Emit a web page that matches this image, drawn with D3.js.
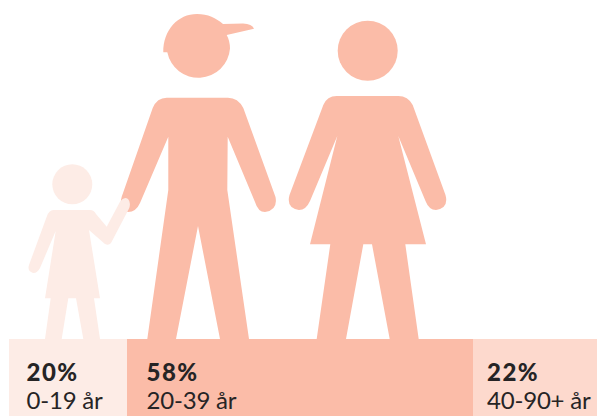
<!DOCTYPE html>
<html>
  <head>
    <meta charset="utf-8">
    <title>Åldersfördelning</title>
  </head>
  <body style="margin:0;background:#fff">
    <svg id="svg" width="597" height="416" style="display:block"></svg>

    <script src="https://cdn.jsdelivr.net/npm/d3@7"></script>
    <script>
      const shares = [20, 58, 22];
      const shareLabels = ['20%', '58%', '22%'];
      const ageLabels = ['0-19 år', '20-39 år', '40-90+ år'];
      const colors = ['#fdece6', '#fbbca8', '#fdd9cd'];

      const width = 597;
      const height = 416;
      const baseY = 339;

      const svg = d3.select('#svg');

      // cumulative share -> x, the source chart isn't quite proportional so keep the breaks
      const cumulative = d3.cumsum(shares);
      const xscale = d3.scaleLinear()
        .domain([0, ...cumulative])
        .range([9, 127, 473, width]);

      const starts = [0, ...cumulative.slice(0, -1)];
      const labelX = (d, i) => xscale(starts[i]) + (i === 0 ? 17.5 : i === 1 ? 19.5 : 14);

      // pictograms, traced by hand
      const man = 'M166.7 97.7 L228 97.7 Q238 97.7 243.3 108 L275.5 197 Q278 210 265 212 Q258 212 255 202 L227.7 136.7 L227.3 190 L249 339 L220 339 L198 226 L176 339 L147.3 339 L168.3 190 L168.3 136.7 L140 203 Q136 212 128 212 Q118 210 121.7 196.7 L152.7 108 Q157 97.7 166.7 97.7 Z';
      const cap = 'M163.3 52.3 C163 30 178 14 197 14 C208 14 216 18 223 24 L243 23.5 Q252 24 254 28.7 L226.7 35 Q230 41 230 48.6 A31.7 31.7 0 0 1 167.3 52.3 Z';
      const woman = 'M336.7 96 L398.3 96 Q408 96 412.7 105 L445.5 195 Q449 208 436 210 Q429 210 425.5 201 L398.3 136 L426 244.3 L405.3 244.3 L418.7 339 L389.7 339 L372 244.3 L363.3 244.3 L346 339 L316.7 339 L330.3 244.3 L310 244.3 L337.3 136 L310 201 Q306 210 299 210 Q286 208 289.5 195 L323.3 105 Q327 96 336.7 96 Z';
      const child = 'M53.3 210 L90 210 Q94 210 96 214 L106.7 226.7 L120 201.7 Q124 196 128 199 Q131 202 129.3 208 L111 243 Q108.5 246 105 244 L89 230 L100 298.3 L94 298.3 L100 339 L83.3 339 L76 298.3 L68.3 298.3 L61.7 339 L45 339 L50.7 298.3 L45 298.3 L55.7 231 L40 268 Q37 273.5 33 273 Q27 271 29 265 L46.7 216.7 Q49 210 53.3 210 Z';

      svg.append('g').selectAll('rect')
        .data(shares)
        .join('rect')
        .attr('x', (d, i) => xscale(starts[i]))
        .attr('y', baseY)
        .attr('width', (d, i) => xscale(starts[i] + d) - xscale(starts[i]))
        .attr('height', height - baseY)
        .attr('fill', (d, i) => colors[i]);

      const people = svg.append('g');
      people.append('path').attr('d', man).attr('fill', colors[1]);
      people.append('path').attr('d', cap).attr('fill', colors[1]);
      people.append('circle').attr('cx', 367.7).attr('cy', 50.7).attr('r', 30).attr('fill', colors[1]);
      people.append('path').attr('d', woman).attr('fill', colors[1]);
      people.append('circle').attr('cx', 72.3).attr('cy', 184.3).attr('r', 20).attr('fill', colors[0]);
      people.append('path').attr('d', child).attr('fill', colors[0]);

      const labels = svg.append('g')
        .attr('font-family', 'Lato, sans-serif')
        .attr('fill', '#262425');

      labels.selectAll('.share')
        .data(shareLabels)
        .join('text')
        .attr('class', 'share')
        .attr('x', labelX)
        .attr('y', 381)
        .attr('font-size', 24)
        .attr('font-weight', 900)
        .attr('letter-spacing', 1.5)
        .text(d => d);

      labels.selectAll('.age')
        .data(ageLabels)
        .join('text')
        .attr('class', 'age')
        .attr('x', labelX)
        .attr('y', 409)
        .attr('font-size', 24)
        .attr('letter-spacing', -0.2)
        .text(d => d);
    </script>
  </body>
</html>
